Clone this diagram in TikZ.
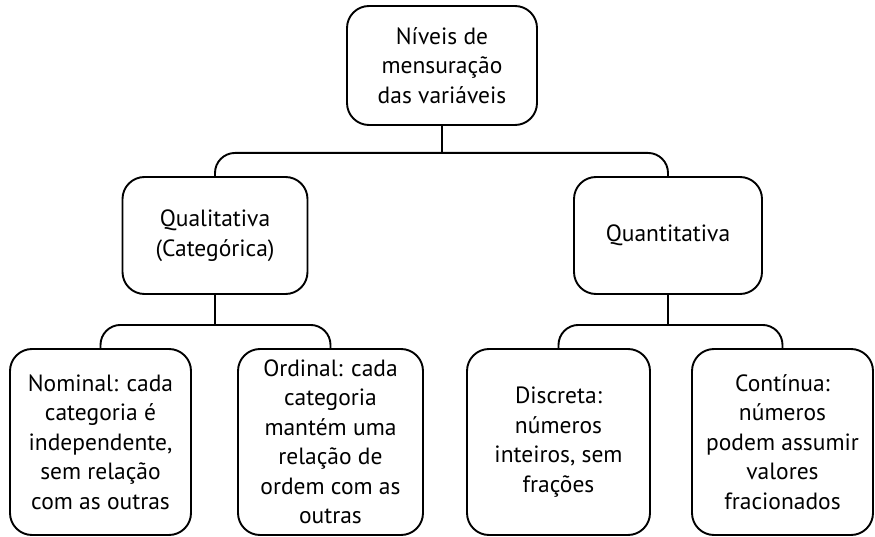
\documentclass[tikz,border=0pt]{standalone}
\usepackage{fontspec}
\setmainfont{PT Sans}
\begin{document}
\begin{tikzpicture}[x=1pt,y=-1pt,
  box/.style={draw,line width=1.9pt,rounded corners=22pt,align=center,inner sep=0pt,
    font=\fontsize{23.5}{29.5}\selectfont},
  link/.style={line width=1.9pt,rounded corners=20pt}]
\useasboundingbox (0,0) rectangle (875,537);
\node[box,minimum width=190pt,minimum height=119pt] (top) at (442,65.5) {Níveis de\\mensuração\\das variáveis};
\node[box,minimum width=185pt,minimum height=117pt] (qual) at (215,235.5) {Qualitativa\\(Categórica)};
\node[box,minimum width=188pt,minimum height=117pt] (quant) at (668,235.5) {Quantitativa};
\node[box,minimum width=181pt,minimum height=186pt] (nom) at (100.5,442) {Nominal: cada\\categoria é\\independente,\\sem relação\\com as outras};
\node[box,minimum width=185pt,minimum height=186pt] (ord) at (330.5,442) {Ordinal: cada\\categoria\\mantém uma\\relação de\\ordem com as\\outras};
\node[box,minimum width=183pt,minimum height=186pt] (disc) at (558.5,442) {Discreta:\\números\\inteiros, sem\\frações};
\node[box,minimum width=181pt,minimum height=186pt] (cont) at (782.5,442) {Contínua:\\números\\podem assumir\\valores\\fracionados};
\coordinate (b1) at ([yshift=-27pt]top.south);
\coordinate (b2) at ([yshift=-30pt]qual.south);
\coordinate (b3) at ([yshift=-30pt]quant.south);
\draw[link] (top.south) -- (b1);
\draw[link] (qual.north) |- (b1) -| (quant.north);
\draw[link] (qual.south) -- (b2);
\draw[link] (nom.north) |- (b2) -| (ord.north);
\draw[link] (quant.south) -- (b3);
\draw[link] (disc.north) |- (b3) -| (cont.north);
\end{tikzpicture}
\end{document}
